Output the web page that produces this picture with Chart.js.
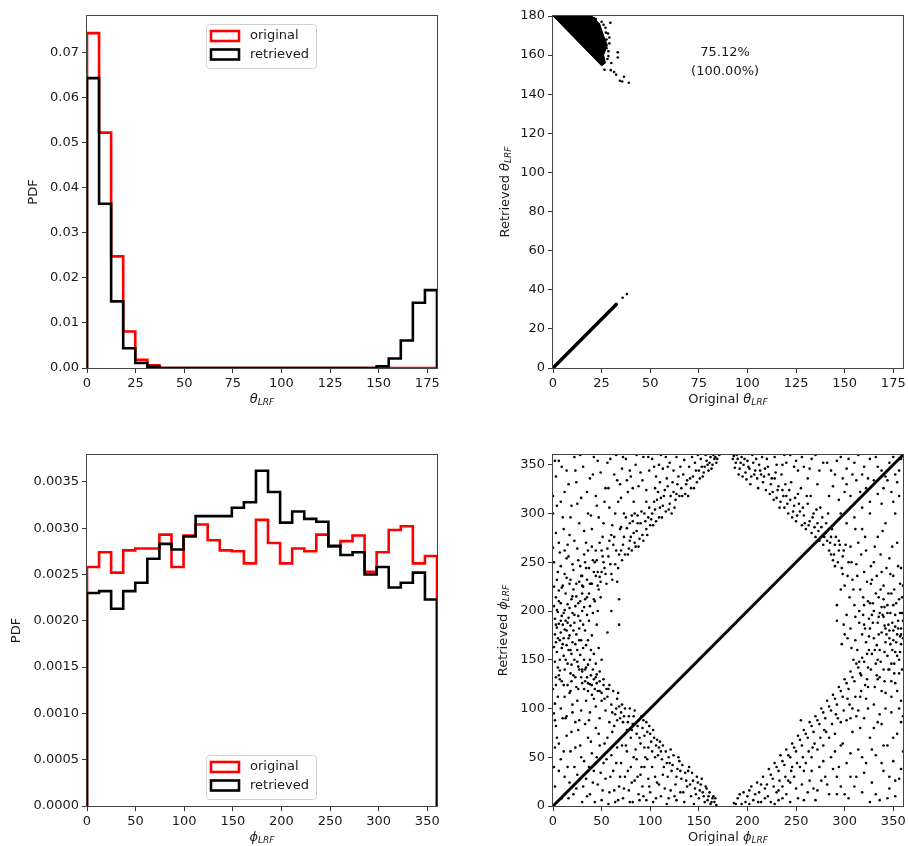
<!DOCTYPE html>
<html>
<head>
<meta charset="utf-8">
<script src="https://cdn.jsdelivr.net/npm/chart.js@4.4.0/dist/chart.umd.min.js"></script>
<style>
  body { margin: 0; background: #fff; width: 908px; height: 846px; position: relative; overflow: hidden; }
  canvas { position: absolute; }
</style>
</head>
<body>
<canvas id="thetaHist" width="454" height="420" style="left:0;top:0"></canvas>
<canvas id="thetaScatter" width="454" height="420" style="left:454px;top:0"></canvas>
<canvas id="phiHist" width="454" height="426" style="left:0;top:420px"></canvas>
<canvas id="phiScatter" width="454" height="426" style="left:454px;top:420px"></canvas>
<script>
// ==================== DATA ====================
// histograms: 29 bins over the axis range
const thetaRange = [0, 180];
const phiRange = [0, 360];
const binCount = 29;

const thetaOriginal = [0.0744, 0.0523, 0.0248, 0.0081, 0.0018, 0.0006, 0, 0, 0, 0, 0, 0, 0, 0, 0, 0, 0, 0, 0, 0, 0, 0, 0, 0, 0, 0, 0, 0, 0];
const thetaRetrieved = [0.0644, 0.0365, 0.0148, 0.0044, 0.0011, 0.0003, 0, 0, 0, 0, 0, 0, 0, 0, 0, 0, 0, 0, 0, 0, 0, 0, 0, 0, 0.0004, 0.0021, 0.0061, 0.0145, 0.0173];

const phiOriginal = [0.00258, 0.00274, 0.00252, 0.00276, 0.00278, 0.00278, 0.00293, 0.00258, 0.00292, 0.00304,
                     0.00287, 0.00276, 0.00275, 0.00262, 0.00309, 0.00284, 0.00262, 0.00278, 0.00275, 0.00293,
                     0.00280, 0.00286, 0.00292, 0.00253, 0.00274, 0.00298, 0.00302, 0.00262, 0.00270];
const phiRetrieved = [0.00230, 0.00232, 0.00213, 0.00232, 0.00241, 0.00267, 0.00283, 0.00277, 0.00291, 0.00313,
                      0.00313, 0.00313, 0.00322, 0.00328, 0.00362, 0.00339, 0.00306, 0.00318, 0.00310, 0.00307,
                      0.00281, 0.00271, 0.00274, 0.00250, 0.00258, 0.00236, 0.00241, 0.00252, 0.00223];

const legendLabels = ['original', 'retrieved'];

// theta scatter: solid wedge near (0,180), loose points, and the diagonal branch
const thetaWedge = [[0, 180], [25, 154.5], [27, 156], [26, 160], [28, 165], [26, 170], [24, 176], [20, 180]];
const thetaLoose = [[29.5, 176.5], [28.3, 171], [27.5, 168], [29, 166], [28.5, 162], [33.3, 161.4], [33.3, 158.8],
                    [29.7, 152.3], [31.4, 151.4], [30, 156], [28, 158], [26.5, 152.5], [32.5, 150], [36.5, 148.9],
                    [34.4, 146.9], [35.6, 146.5], [39, 145.9], [22, 178.5], [25, 177], [27, 174], [29, 169],
                    [22, 176], [24, 172.5], [26.5, 167.5], [27.5, 163.5], [28.5, 159.5], [21, 179], [23, 174.5],
                    [18, 179.5], [16, 180], [26, 175.5], [27.2, 171.5]];
const thetaDiagonal = [[0, 0], [32.5, 32.5]];
const thetaDiagTail = [[35.8, 35.9], [38, 37.8]];
const thetaNote = ['75.12%', '(100.00%)'];
const thetaNoteAt = [[88.5, 161.5], [88.5, 151.8]];

// phi scatter
const phiDiagonal = [[0, 0], [360, 360]];
const phiPoints = [
  [1,205],[2,192],[2,176],[3,168],[3,214],[4,183],[4,158],[5,199],[5,142],[6,187],[6,221],[7,170],[7,150],[8,208],[8,178],
  [9,195],[9,162],[10,226],[10,186],[11,154],[11,172],[12,201],[12,140],[13,190],[13,218],[14,165],[14,180],[15,207],[15,146],
  [16,193],[16,160],[17,228],[17,175],[18,185],[18,136],[19,212],[19,156],[20,198],[20,168],[21,222],[22,150],[22,188],[23,205],
  [23,132],[24,176],[24,215],[25,160],[26,195],[26,143],[27,230],[27,182],[28,210],[28,155],[29,170],[30,200],[30,138],[31,225],
  [31,186],[32,150],[33,212],[33,128],[34,165],[35,232],[35,196],[36,145],[37,218],[38,125],[38,205],[39,160],[40,228],[41,140],
  [42,212],[43,120],[44,236],[45,135],[47,222],[48,118],[50,240],[52,130],
  [0,265],[1,250],[0,120],[2,105],[1,95],[3,280],[0,300],[2,60],[1,40],[0,318],[3,132],[1,225],
  [42,240],[45,252],[48,235],[50,262],[53,244],[55,228],[57,256],[60,238],[62,268],[64,248],[66,230],[68,258],[70,262],[46,226],
  [58,272],[52,250],[44,262],
  [72,268],[74,258],[76,285],[78,264],[80,276],[82,292],[84,270],[86,282],[88,266],[90,290],[92,278],[94,300],[96,284],[98,296],
  [100,288],[75,296],[81,262],[87,298],[93,272],[79,290],
  [102,300],[104,312],[106,292],[108,322],[110,306],[112,296],[114,318],[116,302],[118,328],[120,310],[122,300],[124,322],
  [126,314],[128,330],[130,318],[105,326],[111,316],[117,336],[123,332],[103,288],
  [132,326],[134,340],[136,320],[138,334],[140,348],[142,326],[144,338],[146,352],[148,332],[150,344],[152,356],[154,338],
  [156,348],[158,354],[160,344],[162,358],[164,350],[166,356],[168,352],[135,355],[143,358],[149,360],[157,360],[131,348],[139,318],
  [3,338],[6,354],[10,296],[12,322],[14,344],[17,278],[19,308],[22,358],[24,332],[27,290],[29,316],[31,348],[34,270],[36,300],
  [38,336],[40,284],[42,358],[44,318],[47,296],[49,342],[51,276],[54,326],[56,352],[58,306],[61,288],[63,340],[65,360],[67,312],
  [69,330],[71,346],[73,300],[75,356],[77,322],[80,338],[83,312],[85,350],[88,328],[90,342],[93,358],[96,324],[99,344],[102,356],
  [106,338],[109,350],[113,346],[116,358],[120,352],[124,344],[127,358],[8,312],[15,268],[26,252],[33,250],[12,262],[20,248],[5,240],
  [4,232],[8,246],[12,238],[16,256],[21,242],[25,264],[29,236],[32,258],[37,244],[40,266],[43,250],[6,270],[18,232],[30,226],
  [32,120],[34,108],[36,126],[38,96],[40,114],[42,130],[44,102],[46,118],[48,90],[50,108],[52,124],[54,98],[56,112],[58,86],
  [60,104],[62,118],[64,94],[66,110],[68,102],[48,128],[55,120],[63,82],[37,88],[44,132],
  [70,96],[72,86],[74,100],[76,78],[78,92],[80,70],[82,84],[84,98],[86,74],[88,88],[90,64],[92,80],[94,72],[96,86],[98,60],
  [100,74],[102,56],[104,70],[106,62],[108,52],[110,66],[75,62],[85,58],[95,50],[91,92],
  [112,48],[114,40],[116,56],[118,30],[120,44],[122,36],[124,52],[126,22],[128,38],[130,46],[132,28],[134,14],[136,34],[138,20],
  [140,40],[142,10],[144,26],[146,18],[148,30],[150,8],[152,22],[154,14],[156,4],[158,18],[160,10],[162,2],[164,8],[166,4],
  [168,1],[125,10],[135,4],[145,2],[115,18],[105,30],[119,8],
  [3,82],[6,64],[8,48],[10,90],[12,30],[14,72],[16,8],[18,56],[20,96],[22,40],[24,18],[26,78],[28,62],[30,4],[32,46],[34,28],
  [36,70],[38,12],[40,54],[42,36],[44,80],[46,22],[48,62],[50,6],[52,44],[54,28],[56,70],[58,14],[60,52],[62,36],[64,4],[66,60],
  [68,20],[70,44],[72,8],[74,30],[76,56],[78,16],[80,40],[82,4],[84,26],[86,48],[88,12],[90,32],[92,20],[94,40],[96,6],[98,28],
  [100,14],[102,40],[106,8],[109,22],
  [2,88],[5,112],[8,100],[11,124],[14,92],[17,116],[20,104],[23,86],[26,120],[29,98],[7,130],[19,128],[25,108],
  [186,359],[188,352],[190,356],[192,346],[194,358],[196,350],[198,342],[200,354],[202,346],[204,338],[206,352],[208,344],
  [210,336],[212,350],[214,340],[216,332],[218,346],[220,356],[195,338],[205,360],[215,358],[222,340],[224,330],
  [226,322],[228,336],[230,316],[232,328],[234,312],[236,324],[238,306],[240,318],[242,300],[244,314],[246,296],[248,308],
  [250,292],[252,320],[254,302],[256,288],[258,298],[260,284],[262,310],[264,292],[266,280],[268,300],[270,276],[272,290],
  [274,272],[276,286],[278,268],[280,280],[235,340],[245,332],[255,326],[265,318],[275,306],[252,344],[262,336],[240,352],
  [272,330],[283,300],[286,276],[290,268],[294,262],[298,256],
  [228,358],[236,350],[244,360],[250,354],[258,348],[266,356],[274,344],[282,352],[290,340],[296,358],[302,346],[310,352],
  [318,340],[326,356],[334,348],[342,338],[350,358],[356,344],[288,328],[300,322],[312,334],[322,326],[306,318],[330,334],
  [340,326],[348,322],[354,332],[284,318],
  [282,272],[286,258],[290,246],[294,272],[298,238],[302,290],[304,250],[306,266],[308,232],[310,296],[312,248],[314,270],
  [316,222],[318,284],[320,240],[322,262],[324,210],[326,300],[328,232],[330,250],[332,218],[334,276],[336,198],[338,240],
  [340,226],[342,290],[344,206],[346,254],[348,218],[350,236],[352,196],[354,270],[356,212],[358,244],[360,226],[305,214],
  [315,200],[325,192],[335,214],[345,186],[355,190],[300,226],[310,206],[320,186],[330,200],[340,194],[350,206],[358,182],
  [327,228],[337,258],[347,238],[357,228],[318,306],[338,310],[352,300],[296,222],[292,206],
  [318,176],[322,168],[326,182],[328,156],[330,172],[332,146],[334,188],[336,160],[338,178],[340,140],[342,168],[344,154],
  [346,180],[348,146],[350,170],[352,158],[354,176],[356,150],[358,166],[360,190],[324,142],[336,132],[348,128],[356,136],
  [344,198],[352,184],[328,196],[320,206],[340,212],[333,165],[341,185],[349,160],[357,174],[325,160],[315,188],[311,170],
  [306,182],[302,196],
  [186,3],[190,8],[194,2],[196,14],[200,10],[204,20],[206,6],[210,24],[212,14],[216,30],[220,22],[222,38],[226,28],[228,44],
  [232,36],[234,52],[238,42],[240,58],[244,50],[246,64],[250,56],[252,72],[256,62],[258,78],[262,70],[264,86],[268,76],[270,92],
  [274,84],[276,100],[280,90],[282,108],[286,98],[288,114],[292,104],[294,122],[298,112],[300,130],[304,120],[306,138],[310,128],
  [312,146],[316,136],[318,152],[202,2],[218,8],[236,20],[248,30],[260,44],[272,58],[284,70],[296,86],[308,100],[255,88],
  [267,60],[279,78],[291,94],[303,110],[246,40],[230,14],[214,4],
  [224,4],[232,6],[240,12],[242,26],[252,8],[256,22],[262,14],[266,36],[270,6],[276,26],[278,46],[284,12],[288,38],[290,56],
  [296,20],[298,64],[302,44],[304,8],[308,76],[312,30],[314,58],[318,14],[320,90],[322,44],[326,70],[328,24],[330,104],[332,52],
  [336,6],[338,84],[340,36],[342,116],[344,62],[346,18],[348,96],[350,46],[352,126],[354,74],[356,28],[358,108],[360,56],
  [324,122],[334,130],[344,8],[352,10],[316,112],[306,90],[294,40],[280,30],[268,18],[258,36],[336,94],[346,140],[358,86],
  [68,212],[68,186],[60,200],[56,178],[297,166],[300,176],[292,190],
  [1,163],[2,148],[3,186],[4,201],[5,172],[6,210],[7,139],[8,190],[9,224],[10,166],[11,198],[12,181],[13,150],[14,234],[15,188],
  [16,172],[17,203],[18,160],[19,145],[20,215],[21,180],[22,196],[23,166],[24,228],[25,148],[26,208],[27,170],[28,190],[29,132],
  [30,218],[31,162],[32,204],[33,180],[34,142],[35,214],[36,170],[37,190],[38,150],[39,228],[40,175],[41,198],[42,156],[43,210],
  [44,146],[45,186],[46,200],[47,162],[48,138],[49,214],[50,150],
  [3,124],[6,134],[9,128],[12,112],[15,124],[18,118],[21,134],[24,122],[27,140],[30,126],[33,140],[36,118],[39,134],[42,110],
  [30,236],[34,244],[38,228],[41,252],[46,240],[49,230],[51,256],[54,238],[56,264],[59,248],[61,232],[63,276],[65,262],[67,244],
  [69,284],[71,252],[73,276],[77,258],[79,272],[81,298],[83,280],[85,266],[87,290],[89,274],[91,302],[95,292],[97,278],[99,306],
  [101,294],[105,304],[107,314],[109,296],[113,308],[115,324],[119,304],[121,318],[125,306],[127,320],[129,338],[133,318],
  [137,330],[141,336],[145,326],[147,344],[151,336],[153,348],[155,342],[159,350],[161,352],[163,346],[165,360],[167,358],
  [169,356],[171,360],[110,332],[96,312],[84,300],[70,286],[60,278],[48,270],
  [2,354],[9,348],[16,330],[23,344],[28,360],[35,322],[41,340],[46,354],[53,312],[59,356],[66,334],[72,358],[79,344],[86,360],
  [92,334],[98,358],[104,348],[111,360],[118,348],[4,308],[11,284],[18,296],[25,310],[32,282],[39,298],[45,308],[52,290],[57,326],
  [64,300],[70,316],[76,334],[82,326],[7,260],[14,254],[22,272],[28,246],[36,262],
  [30,140],[35,132],[40,124],[45,126],[50,116],[53,110],[57,120],[61,96],[65,100],[67,116],[69,90],[71,104],[73,92],[77,86],
  [79,100],[81,78],[83,92],[87,82],[89,70],[93,88],[97,76],[99,82],[101,66],[103,78],[107,68],[109,60],[111,56],[113,62],
  [117,44],[119,50],[121,58],[123,42],[127,30],[129,50],[131,36],[133,42],[137,26],[139,36],[141,22],[143,34],[147,12],[149,24],
  [151,16],[153,28],[155,10],[157,20],[159,6],[161,14],[163,4],[165,10],[167,8],[58,124],[66,88],[94,60],
  [2,20],[4,70],[6,36],[9,8],[11,56],[13,90],[15,40],[17,24],[19,76],[21,12],[23,60],[25,32],[27,88],[29,50],[31,20],[33,84],
  [35,10],[37,40],[39,66],[41,24],[43,4],[45,50],[47,74],[49,34],[51,16],[53,64],[55,48],[57,2],[59,30],[61,76],[63,16],[65,44],
  [67,6],[69,30],[71,62],[73,18],[77,36],[79,4],[81,24],[83,50],[87,30],[89,6],[91,40],[93,10],[97,48],[99,20],[103,4],[105,50],
  [107,24],[111,10],[113,32],[117,2],[121,16],[127,6],[131,14],
  [185,356],[187,347],[189,360],[191,340],[193,352],[197,356],[199,335],[201,348],[203,330],[207,340],[209,356],[211,326],
  [213,344],[217,338],[219,324],[221,348],[223,320],[225,336],[227,314],[229,342],[231,324],[233,306],[237,318],[239,330],
  [241,310],[243,324],[247,302],[249,316],[251,298],[253,310],[257,306],[259,290],[261,318],[263,288],[267,296],[269,286],
  [271,304],[273,282],[277,296],[279,276],[281,290],[285,270],[287,284],[289,258],[291,276],[293,250],[295,268],[297,244],
  [299,262],[284,262],[288,252],
  [230,350],[238,360],[248,348],[256,358],[264,346],[270,360],[278,352],[286,344],[292,354],[298,336],[304,356],[308,340],
  [314,360],[320,348],[324,336],[332,358],[338,344],[346,352],[352,340],[358,356],[294,314],[302,330],[316,322],[326,312],
  [334,320],[344,334],[350,312],[356,318],[296,300],[310,310],
  [301,268],[303,236],[307,250],[309,222],[311,284],[313,236],[317,258],[319,214],[321,276],[323,230],[327,246],[329,208],
  [331,266],[333,236],[335,194],[337,222],[339,282],[341,204],[343,244],[345,218],[347,198],[349,266],[351,222],[353,208],
  [355,246],[357,198],[359,214],[360,172],
  [319,196],[321,182],[323,156],[325,174],[327,140],[329,188],[331,160],[333,134],[335,176],[337,148],[339,196],[341,158],
  [343,176],[345,140],[347,166],[349,188],[351,146],[353,168],[355,182],[357,158],[359,140],[359,198],[313,160],[315,148],
  [317,134],[309,150],[307,162],[303,172],[299,186],[311,194],[321,124],[331,122],[341,128],[351,136],[338,204],[346,172],
  [354,154],[326,208],[334,150],[342,182],[350,180],[358,176],
  [188,2],[192,12],[198,4],[202,16],[208,12],[211,4],[214,22],[218,18],[221,10],[224,32],[227,20],[230,40],[233,26],[236,46],
  [239,30],[242,52],[245,36],[248,60],[251,44],[254,68],[257,50],[260,74],[263,56],[266,82],[269,64],[272,88],[275,70],[278,96],
  [281,76],[284,102],[287,84],[290,110],[293,90],[296,118],[299,98],[302,126],[305,104],[308,132],[311,112],[314,142],[317,118],
  [320,148],[323,130],[254,40],[266,50],[278,62],[290,74],[302,88],[314,98],[244,24],[232,16],
  [228,2],[236,8],[244,4],[250,18],[258,6],[264,26],[272,16],[274,40],[282,22],[286,50],[292,30],[296,62],[300,12],[306,54],
  [310,20],[316,80],[320,34],[324,100],[328,58],[332,12],[334,86],[338,44],[342,100],[346,30],[350,70],[354,118],[358,38],
  [360,92],[326,4],[340,62],[352,26],[318,50],[306,30],[292,12],[322,110],[338,118],[348,112],[356,100],[330,80],[312,92]
];

// ==================== STYLE ====================
const RED = '#ff0000';
const INK = '#000000';
const FONT = 'DejaVu Sans';
const TEXT = '#1a1a1a';

function binEdges(range, n) {
    const e = [];
    for (let i = 0; i <= n; i++) e.push(range[0] + (range[1] - range[0]) * i / n);
    return e;
}

// outline of a step histogram (matplotlib histtype='step')
function stepPath(edges, vals) {
    const pts = [{ x: edges[0], y: 0 }];
    vals.forEach((v, i) => {
        pts.push({ x: edges[i], y: v });
        pts.push({ x: edges[i + 1], y: v });
    });
    pts.push({ x: edges[vals.length], y: 0 });
    return pts;
}

function makeAxis(min, max, step, decimals, fit, horizontal) {
    return {
        type: 'linear',
        min: min,
        max: max,
        border: { display: false },
        grid: { drawOnChartArea: false, drawTicks: true, tickLength: 5, color: '#333', lineWidth: 1 },
        ticks: {
            stepSize: step,
            includeBounds: false,
            autoSkip: false,
            maxRotation: 0,
            padding: 3,
            color: TEXT,
            font: { family: FONT, size: 13 },
            callback: v => Number(v).toFixed(decimals)
        },
        afterFit: function(scale) {
            if (horizontal) {
                scale.height = fit;
                scale.paddingLeft = 0;
                scale.paddingRight = 0;
            } else {
                scale.width = fit;
                scale.paddingTop = 0;
                scale.paddingBottom = 0;
            }
        }
    };
}

function drawParts(ctx, parts, cx, cy) {
    let w = 0;
    parts.forEach(p => { ctx.font = p.font; w += ctx.measureText(p.text).width; });
    let x = cx - w / 2;
    parts.forEach(p => {
        ctx.font = p.font;
        ctx.fillText(p.text, x, cy + (p.dy || 0));
        x += ctx.measureText(p.text).width;
    });
}

const upright = '13px "DejaVu Sans"';
const slanted = 'italic 13px "DejaVu Sans"';
const subFont = 'italic 9px "DejaVu Sans"';
function symbolTitle(prefix, sym) {
    const parts = [];
    if (prefix) parts.push({ text: prefix + ' ', font: upright });
    parts.push({ text: sym, font: slanted });
    parts.push({ text: 'LRF', font: subFont, dy: 3 });
    return parts;
}

// frame, axis titles, legend and notes
const panelDecor = {
    id: 'panelDecor',
    afterDraw(chart, args, opts) {
        const ctx = chart.ctx;
        const a = chart.chartArea;
        ctx.save();
        ctx.strokeStyle = '#444';
        ctx.lineWidth = 1;
        ctx.strokeRect(a.left - 0.5, a.top - 0.5, a.right - a.left + 1, a.bottom - a.top + 1);

        ctx.fillStyle = TEXT;
        ctx.textAlign = 'left';
        ctx.textBaseline = 'middle';
        if (opts.xTitle) drawParts(ctx, opts.xTitle, (a.left + a.right) / 2, opts.xTitleY);
        if (opts.yTitle) {
            ctx.save();
            ctx.translate(opts.yTitleX, (a.top + a.bottom) / 2);
            ctx.rotate(-Math.PI / 2);
            drawParts(ctx, opts.yTitle, 0, 0);
            ctx.restore();
        }

        if (opts.notes) {
            ctx.font = upright;
            ctx.textAlign = 'center';
            opts.notes.forEach((n, i) => {
                ctx.fillText(n, chart.scales.x.getPixelForValue(opts.notesAt[i][0]),
                             chart.scales.y.getPixelForValue(opts.notesAt[i][1]));
            });
        }

        if (opts.legend) {
            const bw = 110, bh = 44;
            const bx = a.left + 119;
            const by = opts.legend === 'top' ? a.top + 8 : a.bottom - 7 - bh;
            ctx.beginPath();
            ctx.roundRect(bx + 0.5, by + 0.5, bw, bh, 3);
            ctx.fillStyle = 'rgba(255,255,255,0.8)';
            ctx.fill();
            ctx.strokeStyle = '#d0d0d0';
            ctx.lineWidth = 1;
            ctx.stroke();
            const colors = [RED, INK];
            ctx.textAlign = 'left';
            legendLabels.forEach((label, i) => {
                const cy = by + 12 + i * 18.5;
                ctx.strokeStyle = colors[i];
                ctx.lineWidth = 2.6;
                ctx.strokeRect(bx + 5, cy - 5, 28, 10);
                ctx.fillStyle = TEXT;
                ctx.font = upright;
                ctx.fillText(label, bx + 44, cy);
            });
        }
        ctx.restore();
    }
};

function histChart(id, range, original, retrieved, yMax, yStep, yDec, xStep, xFit, topPad, opts) {
    const edges = binEdges(range, binCount);
    return new Chart(document.getElementById(id), {
        type: 'scatter',
        data: {
            datasets: [
                {
                    label: 'original', data: stepPath(edges, original), showLine: true,
                    borderColor: RED, borderWidth: 2.6, pointRadius: 0, fill: false,
                    borderJoinStyle: 'miter', order: 2
                },
                {
                    label: 'retrieved', data: stepPath(edges, retrieved), showLine: true,
                    borderColor: INK, borderWidth: 2.6, pointRadius: 0, fill: false,
                    borderJoinStyle: 'miter', order: 1
                }
            ]
        },
        options: {
            responsive: false,
            animation: false,
            events: [],
            layout: { padding: { left: 0, right: 17, top: topPad, bottom: 0 } },
            plugins: { legend: { display: false }, tooltip: { enabled: false }, panelDecor: opts },
            scales: {
                x: makeAxis(range[0], range[1], xStep, 0, xFit, true),
                y: makeAxis(0, yMax, yStep, yDec, 87, false)
            }
        },
        plugins: [panelDecor]
    });
}

function scatterChart(id, range, yRange, xStep, yStep, xFit, topPad, datasets, opts) {
    return new Chart(document.getElementById(id), {
        type: 'scatter',
        data: { datasets: datasets },
        options: {
            responsive: false,
            animation: false,
            events: [],
            layout: { padding: { left: 0, right: 5, top: topPad, bottom: 0 } },
            plugins: { legend: { display: false }, tooltip: { enabled: false }, panelDecor: opts },
            scales: {
                x: makeAxis(range[0], range[1], xStep, 0, xFit, true),
                y: makeAxis(yRange[0], yRange[1], yStep, 0, 99, false)
            }
        },
        plugins: [panelDecor]
    });
}

const dots = (data) => ({
    data: data, showLine: false, pointRadius: 1.3, pointBorderWidth: 0,
    pointBackgroundColor: INK, order: 2
});

// ==================== PANELS ====================
histChart('thetaHist', thetaRange, thetaOriginal, thetaRetrieved, 0.0782, 0.01, 2, 25, 52, 16, {
    xTitle: symbolTitle('', 'θ'), xTitleY: 400,
    yTitle: [{ text: 'PDF', font: upright }], yTitleX: 34,
    legend: 'top'
});

scatterChart('thetaScatter', thetaRange, thetaRange, 25, 20, 52, 16, [
    { data: thetaWedge, showLine: true, fill: 'shape', backgroundColor: INK, borderColor: INK,
      borderWidth: 1, pointRadius: 0, order: 1 },
    dots(thetaLoose),
    { data: thetaDiagonal, showLine: true, borderColor: INK, borderWidth: 3.5, pointRadius: 0,
      borderCapStyle: 'round', order: 1 },
    dots(thetaDiagTail)
], {
    xTitle: symbolTitle('Original', 'θ'), xTitleY: 400,
    yTitle: symbolTitle('Retrieved', 'θ'), yTitleX: 52,
    notes: thetaNote, notesAt: thetaNoteAt
});

histChart('phiHist', phiRange, phiOriginal, phiRetrieved, 0.00379, 0.0005, 4, 50, 40, 35, {
    xTitle: symbolTitle('', 'ϕ'), xTitleY: 418,
    yTitle: [{ text: 'PDF', font: upright }], yTitleX: 17,
    legend: 'bottom'
});

scatterChart('phiScatter', phiRange, phiRange, 50, 50, 40, 35, [
    dots(phiPoints),
    { data: phiDiagonal, showLine: true, borderColor: INK, borderWidth: 3, pointRadius: 0, order: 1 }
], {
    xTitle: symbolTitle('Original', 'ϕ'), xTitleY: 418,
    yTitle: symbolTitle('Retrieved', 'ϕ'), yTitleX: 50
});
</script>
</body>
</html>
